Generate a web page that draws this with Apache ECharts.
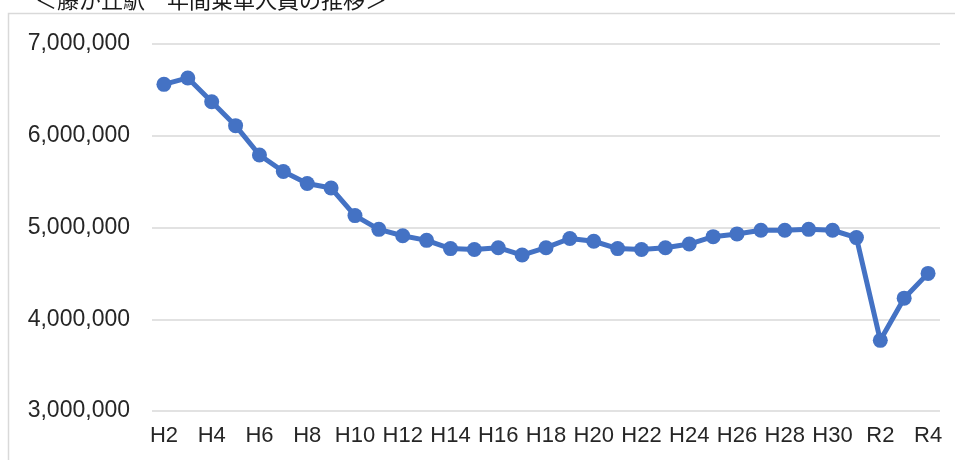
<!DOCTYPE html>
<html>
<head>
<meta charset="utf-8">
<script src="https://cdn.jsdelivr.net/npm/echarts@6/dist/echarts.min.js"></script>
<style>
html,body{margin:0;padding:0;background:#fff;}
#c{width:955px;height:460px;}
</style>
</head>
<body>
<div id="c"></div>
<script>
const titleText = '＜藤が丘駅　年間乗車人員の推移＞';
const categories = ['H2','H3','H4','H5','H6','H7','H8','H9','H10','H11','H12','H13','H14','H15','H16','H17','H18','H19','H20','H21','H22','H23','H24','H25','H26','H27','H28','H29','H30','H31','R2','R3','R4'];
const riders = [6560000,6630000,6370000,6110000,5790000,5610000,5480000,5430000,5130000,4980000,4910000,4860000,4770000,4760000,4780000,4700000,4780000,4880000,4850000,4770000,4760000,4780000,4820000,4900000,4930000,4970000,4970000,4980000,4970000,4890000,3770000,4230000,4500000];
const yTicks = [3000000,4000000,5000000,6000000,7000000];

const chart = echarts.init(document.getElementById('c'), null, {renderer:'canvas'});
const fontFam = '"Liberation Sans", Arial, sans-serif';
chart.setOption({
  animation:false,
  backgroundColor:'#ffffff',
  title:{
    text:titleText, left:30, top:-16,
    textStyle:{fontFamily:'"Noto Sans CJK JP", sans-serif', fontSize:22, fontWeight:'normal', color:'#1a1a1a'}
  },
  graphic:[{
    type:'rect', silent:true, z:-1,
    shape:{x:8.5, y:13.5, width:1000, height:1000},
    style:{fill:'none', stroke:'#d9d9d9', lineWidth:1.5}
  }],
  grid:{left:152, right:15, top:44, bottom:49},
  xAxis:{
    type:'category', data:categories, boundaryGap:true,
    axisLine:{show:false}, axisTick:{show:false},
    axisLabel:{interval:1, margin:14, color:'#262626', fontSize:22, fontFamily:fontFam, hideOverlap:false}
  },
  yAxis:{
    type:'value', min:yTicks[0], max:yTicks[yTicks.length-1], interval:1000000,
    axisLine:{show:false}, axisTick:{show:false},
    axisLabel:{margin:22, color:'#262626', fontSize:23, fontFamily:fontFam,
      formatter:v=>v.toLocaleString('en-US')},
    splitLine:{show:true, lineStyle:{color:'#d9d9d9', width:1.5}}
  },
  series:[{
    type:'line', data:riders,
    symbol:'circle', symbolSize:15,
    lineStyle:{color:'#4472C4', width:5},
    itemStyle:{color:'#4472C4'}
  }]
});
</script>
</body>
</html>
